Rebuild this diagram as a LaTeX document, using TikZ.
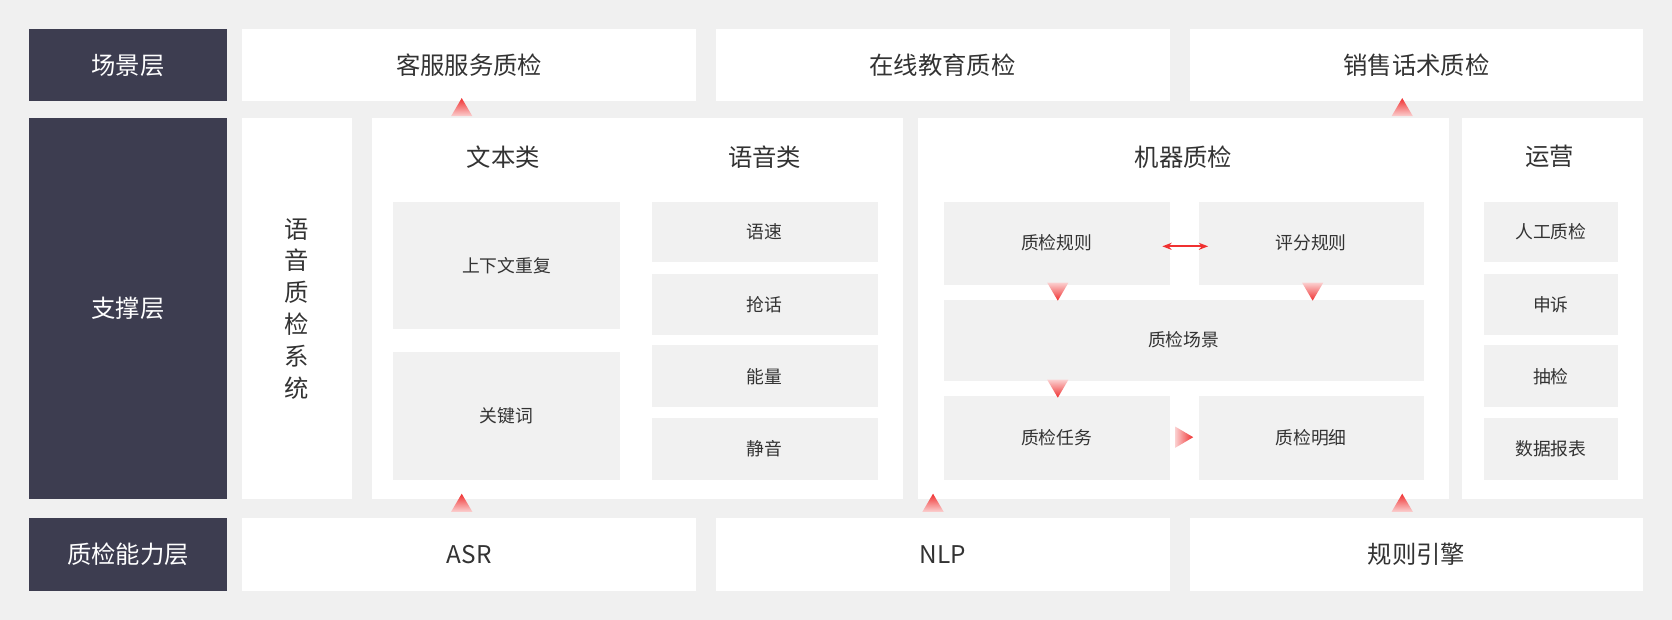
\documentclass[tikz,border=0pt]{standalone}
\usepackage{fontspec}
\setmainfont{Noto Sans CJK SC}
\usetikzlibrary{arrows.meta}
\definecolor{bg}{HTML}{F0F0F0}
\definecolor{dark}{HTML}{3D3D50}
\definecolor{inner}{HTML}{F1F1F1}
\definecolor{txt}{HTML}{333333}
\definecolor{ared}{HTML}{F03030}
\definecolor{apale}{HTML}{FBD0D0}
\tikzset{
 darkbox/.style={fill=dark,text=white,font=\fontsize{13}{15}\selectfont},
 whitebox/.style={fill=white,text=txt,font=\fontsize{13}{15}\selectfont},
 innerbox/.style={fill=inner,text=txt,font=\fontsize{9.5}{11}\selectfont},
 head/.style={text=txt,font=\fontsize{13}{15}\selectfont},
}
\newcommand{\bx}[7]{\fill[#6] (#2,#3) rectangle (#4,#5);
 \node[#6,fill=none,inner sep=0pt,align=center] (#1) at ({(#2+#4)/2},{(#3+#5)/2}) {#7};}
\newcommand{\triup}[2]{\shade[top color=ared,bottom color=apale] (#1,#2-9)--(#1+10,#2+8)--(#1-10,#2+8)--cycle;}
\newcommand{\tridown}[2]{\shade[top color=apale,bottom color=ared] (#1,#2+9)--(#1+10,#2-8)--(#1-10,#2-8)--cycle;}
\newcommand{\triright}[2]{\shade[left color=apale,right color=ared] (#1+9,#2)--(#1-8,#2-10)--(#1-8,#2+10)--cycle;}
\begin{document}
\begin{tikzpicture}[x=0.02cm,y=-0.02cm]
\fill[bg] (0,0) rectangle (1568,581);
\useasboundingbox (0,0) rectangle (1568,581);
% left labels
\bx{l1}{27}{27}{213}{95}{darkbox}{场景层}
\bx{l2}{27}{111}{213}{468}{darkbox}{支撑层}
\bx{l3}{27}{486}{213}{554}{darkbox}{质检能力层}
% top
\bx{t1}{227}{27}{653}{95}{whitebox}{客服服务质检}
\bx{t2}{671}{27}{1097}{95}{whitebox}{在线教育质检}
\bx{t3}{1116}{27}{1541}{95}{whitebox}{销售话术质检}
% bottom
\bx{b1}{227}{486}{653}{554}{whitebox}{ASR}
\bx{b2}{671}{486}{1097}{554}{whitebox}{NLP}
\bx{b3}{1116}{486}{1541}{554}{whitebox}{规则引擎}
% middle panels
\bx{sys}{227}{111}{330}{468}{whitebox}{语\\[2pt]音\\[2pt]质\\[2pt]检\\[2pt]系\\[2pt]统}
\fill[white] (349,111) rectangle (847,468);
\fill[white] (861,111) rectangle (1359,468);
\fill[white] (1371,111) rectangle (1541,468);
\node[head] (h1) at (472,147) {文本类};
\node[head] (h2) at (717,147) {语音类};
\node[head] (h3) at (1110,147) {机器质检};
\node[head] (h4) at (1453,147) {运营};
% text class
\bx{c1}{369}{189}{581}{309}{innerbox}{上下文重复}
\bx{c2}{369}{330}{581}{450}{innerbox}{关键词}
% voice class
\bx{v1}{611}{189}{823}{246}{innerbox}{语速}
\bx{v2}{611}{257}{823}{314}{innerbox}{抢话}
\bx{v3}{611}{324}{823}{382}{innerbox}{能量}
\bx{v4}{611}{392}{823}{450}{innerbox}{静音}
% machine
\bx{qr}{885}{189}{1097}{267}{innerbox}{质检规则}
\bx{pf}{1124}{189}{1335}{267}{innerbox}{评分规则}
\bx{qs}{885}{281}{1335}{357}{innerbox}{质检场景}
\bx{qt}{885}{371}{1097}{450}{innerbox}{质检任务}
\bx{qd}{1124}{371}{1335}{450}{innerbox}{质检明细}
\coordinate (qrE) at (1090,231);
\coordinate (pfW) at (1133,231);
% operations
\bx{o1}{1392}{189}{1517}{246}{innerbox}{人工质检}
\bx{o2}{1392}{257}{1517}{314}{innerbox}{申诉}
\bx{o3}{1392}{324}{1517}{382}{innerbox}{抽检}
\bx{o4}{1392}{392}{1517}{450}{innerbox}{数据报表}
% arrows
\draw[ared,line width=1pt,{Stealth[length=5pt]}-{Stealth[length=5pt]}] (qrE) -- (pfW);
\triup{433}{101}
\triup{1315}{101}
\triup{433}{472}
\triup{875}{472}
\triup{1315}{472}
\tridown{992}{273}
\tridown{1231}{273}
\tridown{992}{364}
\triright{1110}{410}
\end{tikzpicture}
\end{document}
